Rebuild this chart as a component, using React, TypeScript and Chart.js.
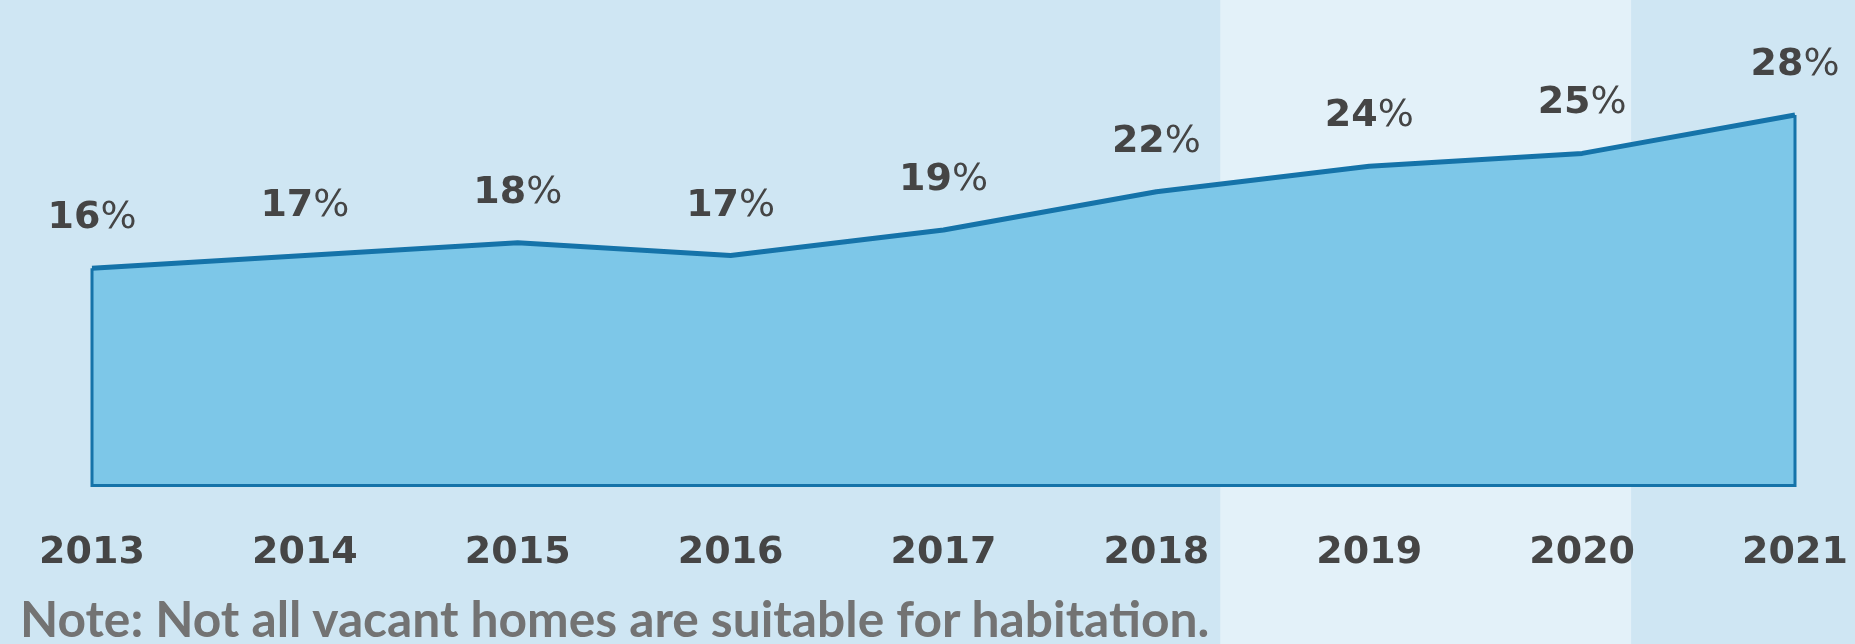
import React, { useEffect, useRef } from "react";
import { Chart, registerables } from "chart.js";

Chart.register(...registerables);

// ---- data ----
const years = ["2013", "2014", "2015", "2016", "2017", "2018", "2019", "2020", "2021"];
const vacancyRate = [16, 17, 18, 17, 19, 22, 24, 25, 28];
const rateLabels = vacancyRate.map((v) => `${v}`);
const noteText = "Note: Not all vacant homes are suitable for habitation.";

// axis range and highlighted band (in category-index units)
const yMin = -1;
const yMax = 32;
const bandFrom = 5.3;
const bandTo = 7.23;

// ---- style ----
const W = 1855;
const H = 644;
const BG = "#cfe6f3";
const BAND = "#e3f1f9";
const FILL = "#7dc7e8";
const LINE = "#1573a9";
const TEXT = "#454545";
const NOTE = "#737373";

const backgroundPlugin = {
  id: "bgBands",
  beforeDraw(chart: any) {
    const { ctx } = chart;
    const x = chart.scales.x;
    ctx.save();
    ctx.fillStyle = BG;
    ctx.fillRect(0, 0, chart.width, chart.height);
    const a = x.getPixelForValue(bandFrom);
    const b = x.getPixelForValue(bandTo);
    ctx.fillStyle = BAND;
    ctx.fillRect(a, 0, b - a, chart.height);
    ctx.restore();
  },
};

const outlineAndLabels = {
  id: "outlineLabels",
  afterDatasetsDraw(chart: any) {
    const { ctx, chartArea } = chart;
    const pts = chart.getDatasetMeta(0).data;
    if (!pts.length) return;
    const first = pts[0];
    const last = pts[pts.length - 1];
    ctx.save();
    ctx.strokeStyle = LINE;
    ctx.lineWidth = 3;
    ctx.lineJoin = "miter";
    ctx.beginPath();
    ctx.moveTo(first.x, first.y);
    ctx.lineTo(first.x, chartArea.bottom);
    ctx.lineTo(last.x, chartArea.bottom);
    ctx.lineTo(last.x, last.y);
    ctx.stroke();

    ctx.fillStyle = TEXT;
    ctx.textBaseline = "alphabetic";
    ctx.textAlign = "left";
    const numFont = "bold 38px 'DejaVu Sans'";
    const pctFont = "38px 'DejaVu Sans'";
    pts.forEach((p: any, i: number) => {
      const num = rateLabels[i];
      ctx.font = numFont;
      const wNum = ctx.measureText(num).width;
      ctx.font = pctFont;
      const wPct = ctx.measureText("%").width;
      const left = p.x - (wNum + wPct) / 2;
      const y = p.y - 40;
      ctx.font = numFont;
      ctx.fillText(num, left, y);
      ctx.font = pctFont;
      ctx.fillText("%", left + wNum, y);
    });
    ctx.restore();
  },
};

export default function App() {
  const canvasRef = useRef<HTMLCanvasElement | null>(null);
  const noteRef = useRef<HTMLDivElement | null>(null);

  useEffect(() => {
    const canvas = canvasRef.current;
    if (!canvas) return;

    // fit the note text width
    const note = noteRef.current;
    if (note) {
      const mctx = document.createElement("canvas").getContext("2d");
      if (mctx) {
        mctx.font = "bold 100px Lato";
        const w = mctx.measureText(noteText).width;
        const size = (100 * 1192) / w;
        note.style.fontSize = `${size}px`;
        note.style.top = `${638 - 0.887 * size}px`;
      }
    }

    const chart = new Chart(canvas, {
      type: "line",
      data: {
        labels: years,
        datasets: [
          {
            data: vacancyRate,
            borderColor: LINE,
            borderWidth: 5,
            backgroundColor: FILL,
            fill: "start",
            pointRadius: 0,
            tension: 0,
            borderJoinStyle: "round",
          },
        ],
      },
      options: {
        responsive: false,
        maintainAspectRatio: false,
        animation: false,
        layout: { padding: { left: 92, right: 60, top: 64, bottom: 23 } },
        plugins: {
          legend: { display: false },
          tooltip: { enabled: false },
        },
        scales: {
          x: {
            offset: false,
            grid: { display: false, drawTicks: false },
            border: { display: false },
            afterFit(scale: any) {
              scale.paddingLeft = 0;
              scale.paddingRight = 0;
            },
            ticks: {
              padding: 45,
              color: TEXT,
              autoSkip: false,
              maxRotation: 0,
              font: { family: "'DejaVu Sans'", weight: "bold", size: 38 },
            },
          },
          y: { display: false, min: yMin, max: yMax },
        },
      },
      plugins: [backgroundPlugin, outlineAndLabels],
    } as any);

    return () => chart.destroy();
  }, []);

  return (
    <div style={{ position: "absolute", left: 0, top: 0, width: W, height: H, overflow: "hidden" }}>
      <canvas ref={canvasRef} width={W} height={H} style={{ display: "block", width: W, height: H }} />
      <div
        ref={noteRef}
        style={{
          position: "absolute",
          left: 20,
          top: 600,
          fontFamily: "Lato, sans-serif",
          fontWeight: 700,
          fontSize: 43,
          lineHeight: 1,
          color: NOTE,
          whiteSpace: "nowrap",
        }}
      >
        {noteText}
      </div>
    </div>
  );
}
